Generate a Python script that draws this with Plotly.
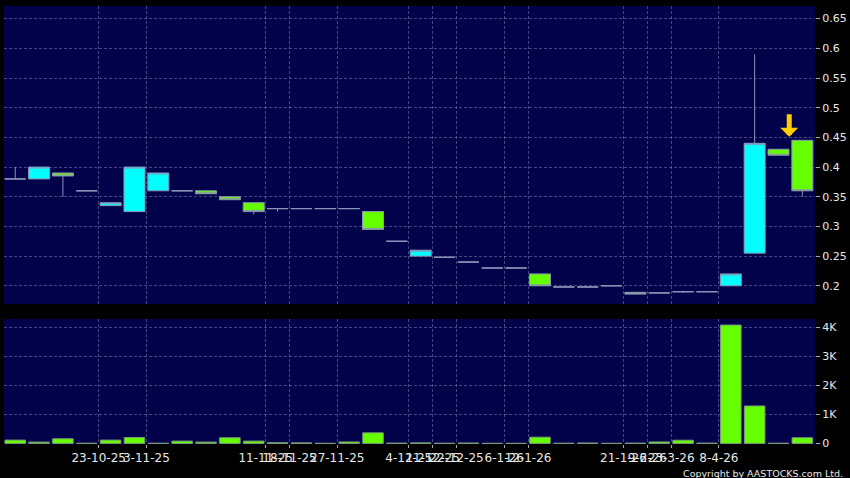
import plotly.graph_objects as go

# ---- data ----
opens  = [0.38, 0.38, 0.39, 0.36, 0.335, 0.325, 0.36, 0.36, 0.36, 0.35, 0.34, 0.33, 0.33, 0.33, 0.33, 0.325, 0.275,
          0.25, 0.248, 0.24, 0.23, 0.23, 0.22, 0.198, 0.198, 0.20, 0.189, 0.188, 0.19, 0.19, 0.20, 0.255, 0.43, 0.445]
highs  = [0.40, 0.40, 0.39, 0.36, 0.34, 0.40, 0.39, 0.36, 0.36, 0.35, 0.34, 0.33, 0.33, 0.33, 0.33, 0.325, 0.275,
          0.26, 0.248, 0.24, 0.23, 0.23, 0.22, 0.198, 0.198, 0.20, 0.189, 0.188, 0.19, 0.19, 0.22, 0.59, 0.43, 0.445]
lows   = [0.38, 0.38, 0.35, 0.36, 0.335, 0.325, 0.36, 0.36, 0.355, 0.345, 0.32, 0.325, 0.33, 0.33, 0.33, 0.295, 0.275,
          0.25, 0.248, 0.24, 0.23, 0.23, 0.20, 0.198, 0.198, 0.20, 0.186, 0.188, 0.188, 0.19, 0.20, 0.255, 0.42, 0.35]
closes = [0.38, 0.40, 0.385, 0.36, 0.34, 0.40, 0.39, 0.36, 0.355, 0.345, 0.325, 0.33, 0.33, 0.33, 0.33, 0.295, 0.275,
          0.26, 0.248, 0.24, 0.23, 0.23, 0.20, 0.198, 0.198, 0.20, 0.186, 0.188, 0.19, 0.19, 0.22, 0.44, 0.42, 0.36]
volumes = [115, 45, 160, 5, 115, 205, 5, 80, 45, 195, 80, 25, 20, 3, 50, 365, 10,
           20, 5, 15, 3, 3, 215, 5, 15, 3, 10, 50, 110, 10, 4080, 1290, 5, 195]

# candle index at which each dated x tick label starts
tick_index = [4, 6, 11, 12, 14, 17, 18, 19, 21, 22, 26, 27, 28, 30]
tick_labels = ["23-10-25", "3-11-25", "11-11-25", "18-11-25", "27-11-25", "4-12-25", "11-12-25",
               "22-12-25", "6-1-26", "12-1-26", "21-1-26", "9-2-26", "23-3-26", "8-4-26"]

price_ticks = [0.2, 0.25, 0.3, 0.35, 0.4, 0.45, 0.5, 0.55, 0.6, 0.65]
price_tick_text = ["0.2", "0.25", "0.3", "0.35", "0.4", "0.45", "0.5", "0.55", "0.6", "0.65"]
vol_ticks = [0, 1000, 2000, 3000, 4000]
vol_tick_text = ["0", "1K", "2K", "3K", "4K"]

# ---- styling ----
BG = "#000000"
PLOT_BG = "#02024a"
GRID = "rgba(125,125,180,0.55)"
TXT = "#e8e8e8"
FONT = "DejaVu Sans"

idx = list(range(len(opens)))
tick_pos = [i - 0.5 for i in tick_index]
xr = [-0.47, len(opens) - 0.47]

fig = go.Figure()

fig.add_trace(go.Candlestick(
    x=idx, open=opens, high=highs, low=lows, close=closes,
    increasing=dict(fillcolor="#00ffff", line=dict(color="#8c94b8", width=1)),
    decreasing=dict(fillcolor="#66ff00", line=dict(color="#8c94b8", width=1)),
    whiskerwidth=0, xaxis="x", yaxis="y", hoverinfo="skip", showlegend=False,
))

fig.add_trace(go.Bar(
    x=idx, y=volumes, width=0.86,
    marker=dict(color="#66ff00", line=dict(color="#7c9a7c", width=1)),
    xaxis="x2", yaxis="y2", hoverinfo="skip", showlegend=False,
))

# yellow arrow marking the latest session
last = len(opens) - 1
fig.add_annotation(
    x=last - 0.55, y=highs[last] + 0.006, xref="x", yref="y",
    text="", showarrow=True, ax=0, ay=-24,
    arrowhead=1, arrowsize=0.6, arrowwidth=5, arrowcolor="#ffcc00",
)

fig.add_annotation(
    x=1, y=0, xref="paper", yref="paper", xanchor="right", yanchor="top",
    yshift=-22, xshift=30, showarrow=False,
    text="Copyright by AASTOCKS.com Ltd.", font=dict(family=FONT, size=9.5, color=TXT),
)

axis_common = dict(showline=False, zeroline=False, gridcolor=GRID, griddash="3px,2px", gridwidth=1)

fig.update_layout(
    width=850, height=478,
    paper_bgcolor=BG, plot_bgcolor=PLOT_BG,
    margin=dict(l=4, r=35, t=6, b=34),
    font=dict(family=FONT, size=11, color=TXT),
    boxgap=0.12, boxgroupgap=0.0,
    bargap=0.1,
    xaxis=dict(domain=[0, 1], anchor="y", range=xr, tickvals=tick_pos, ticktext=[""] * len(tick_pos),
               showticklabels=False, ticks="", rangeslider=dict(visible=False), **axis_common),
    yaxis=dict(domain=[0.3196, 1], anchor="x", side="right", range=[0.1693, 0.6713],
               tickvals=price_ticks, ticktext=price_tick_text, ticks="outside", ticklen=4,
               tickcolor="#aaaaaa", automargin=False, **axis_common),
    xaxis2=dict(domain=[0, 1], anchor="y2", range=xr, tickvals=tick_pos, ticktext=tick_labels,
                ticks="outside", ticklen=3, tickcolor="#aaaaaa", tickangle=0, automargin=False,
                tickfont=dict(size=12), **axis_common),
    yaxis2=dict(domain=[0, 0.2854], anchor="x2", side="right", range=[-20, 4290],
                tickvals=vol_ticks, ticktext=vol_tick_text, ticks="outside", ticklen=4,
                tickcolor="#aaaaaa", automargin=False, **axis_common),
)

fig.write_html("out.html", config={"displayModeBar": False},
               post_script="document.body.style.margin='0';document.body.style.overflow='hidden';")
